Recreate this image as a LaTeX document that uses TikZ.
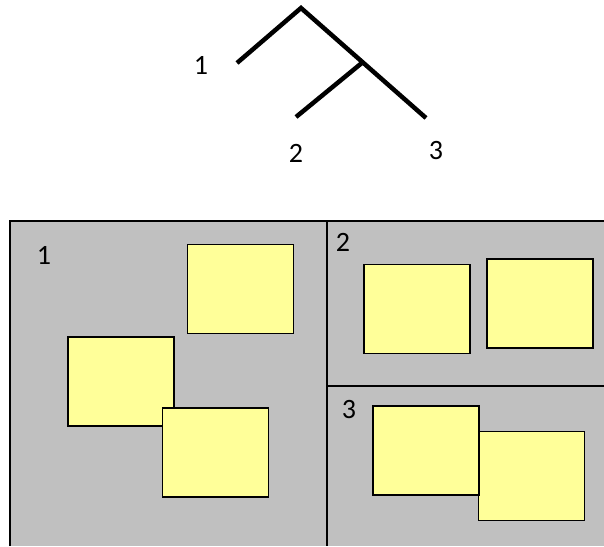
\documentclass[tikz,border=0pt]{standalone}
\usepackage{fontspec}
\setmainfont{Carlito}
\usepackage{tikz}
\usetikzlibrary{positioning}
\definecolor{panelgray}{HTML}{C0C0C0}
\definecolor{noteyellow}{HTML}{FFFF99}
\tikzset{
    branch/.style={line width=4.5pt},
    numlabel/.style={inner sep=0pt, font=\fontsize{28}{30}\selectfont},
    note/.style={draw, fill=noteyellow, line width=1.1pt, inner sep=0pt,
        minimum width=106pt, minimum height=89pt}
}

\begin{document}
\begin{tikzpicture}[x=1pt, y=-1pt]
    \useasboundingbox (0,0) rectangle (604,546);

    % Tree
    \coordinate (root) at (301,8);
    \coordinate (leafA) at (237,63);
    \coordinate (joint) at (363,62);
    \coordinate (leafB) at (296,117);
    \coordinate (leafC) at (426,118);
    \draw[branch] (leafA) -- (root) -- (leafC);
    \draw[branch] (joint) -- (leafB);
    \node[numlabel] (tA) at (201,65) {1};
    \node[numlabel] (tB) at (296,153) {2};
    \node[numlabel] (tC) at (436,151) {3};

    % Panels
    \fill[panelgray] (10,221) rectangle (604,546);
    \draw[line width=1.3pt] (10,546) -- (10,221) -- (604,221);
    \draw[line width=1.3pt] (327,221) -- (327,546);
    \draw[line width=1.3pt] (327,386) -- (604,386);
    \node[numlabel] (pA) at (44,255) {1};
    \node[numlabel] (pB) at (343,242) {2};
    \node[numlabel] (pC) at (349,410) {3};

    % Notes in panel 1
    \node[note] (nA1) at (240.5,289) {};
    \node[note] (nA2) at (121,381.5) {};
    \node[note] (nA3) at (215.5,452.5) {};

    % Notes in panel 2
    \node[note] (nB1) at (417,309) {};
    \node[note] (nB2) at (540,303.5) {};

    % Notes in panel 3
    \node[note] (nC2) at (531.5,476) {};
    \node[note] (nC1) at (426,450.5) {};
\end{tikzpicture}
\end{document}
